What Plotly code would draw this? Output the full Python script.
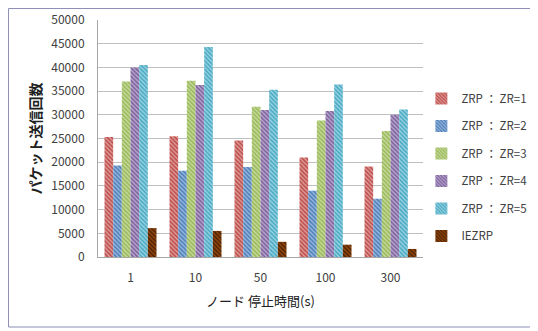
import plotly.graph_objects as go

categories = ["1", "10", "50", "100", "300"]
zr1 = [25300, 25500, 24600, 21000, 19100]
zr2 = [19300, 18200, 19000, 14000, 12300]
zr3 = [37000, 37200, 31700, 28800, 26600]
zr4 = [40000, 36300, 31000, 30800, 30000]
zr5 = [40500, 44300, 35300, 36400, 31100]
iezrp = [6100, 5500, 3200, 2600, 1700]
y_ticks = [0, 5000, 10000, 15000, 20000, 25000, 30000, 35000, 40000, 45000, 50000]
legend_labels = ["ZRP ： ZR=1", "ZRP ： ZR=2", "ZRP ： ZR=3", "ZRP ： ZR=4", "ZRP ： ZR=5", "IEZRP"]

series_values = [zr1, zr2, zr3, zr4, zr5, iezrp]
colors = ["#C0504D", "#4F81BD", "#9BBB59", "#8064A2", "#4BACC6", "#4A2206"]
fgcolors = ["white", "white", "white", "white", "white", "#E46C0A"]

fig = go.Figure()
for i, (name, vals) in enumerate(zip(legend_labels, series_values)):
    fig.add_trace(go.Bar(
        x=categories, y=vals, name=name, legendgroup=str(i),
        marker=dict(
            color=colors[i], line=dict(width=0),
            pattern=dict(shape="\\", fgcolor=fgcolors[i], fillmode="overlay",
                         size=3, solidity=0.4 if i < 5 else 0.5),
        ),
    ))

font_main = "Noto Sans CJK JP, Noto Sans, sans-serif"
fig.update_layout(
    width=538, height=331,
    margin=dict(l=90, r=123, t=12, b=82, autoexpand=False),
    paper_bgcolor="white", plot_bgcolor="white",
    barmode="group", bargap=0.2, bargroupgap=0,
    font=dict(family=font_main, size=12, color="#404040"),
    showlegend=True,
    legend=dict(x=0.995, y=0.73, xanchor="left", yanchor="top",
                font=dict(size=11.5, color="#404040"), tracegroupgap=8.5,
                bgcolor="rgba(0,0,0,0)"),
    xaxis=dict(showgrid=False, showline=True, linecolor="#A6A6A6", linewidth=1,
               ticks="outside", ticklen=10, tickcolor="rgba(0,0,0,0)",
               automargin=False, tickfont=dict(size=12, color="#404040"),
               title=dict(text="ノード 停止時間(s)", font=dict(size=13, color="#202020"), standoff=12)),
    yaxis=dict(range=[0, 50000], tickvals=y_ticks, tickformat="d", showgrid=True, gridcolor="#BFBFBF",
               showline=True, linecolor="#A6A6A6", linewidth=1, zeroline=False,
               ticks="outside", ticklen=10, tickcolor="rgba(0,0,0,0)",
               automargin=False, tickfont=dict(size=12, color="#404040"),
               title=dict(text="<b>パケット送信回数</b>", font=dict(size=14, color="#202020"), standoff=6)),
    shapes=[dict(type="rect", xref="paper", yref="paper",
                 x0=-0.2754, x1=1.3446, y0=-0.2954, y1=1.0485,
                 line=dict(color="#8E8EB8", width=1), fillcolor="rgba(0,0,0,0)", layer="below")],
)

fig.write_html("out.html")
